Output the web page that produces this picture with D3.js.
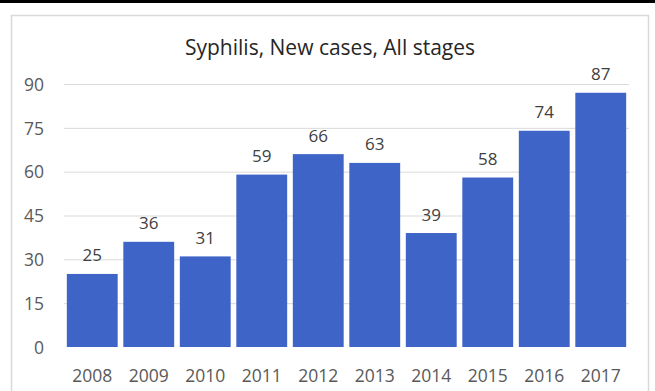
<!DOCTYPE html>
<html>
<head>
<meta charset="utf-8">
<script src="https://cdn.jsdelivr.net/npm/d3@7"></script>
<style>
  html, body { margin: 0; padding: 0; background: #ffffff; }
  svg { display: block; }
  text { font-family: "Open Sans", "Noto Sans", sans-serif; }
</style>
</head>
<body>
<svg id="chart" width="655" height="391"></svg>
<script>
// Syphilis, new cases, all stages, by year
const years = ["2008", "2009", "2010", "2011", "2012", "2013", "2014", "2015", "2016", "2017"];
const cases = [25, 36, 31, 59, 66, 63, 39, 58, 74, 87];
const yTicks = [0, 15, 30, 45, 60, 75, 90];
const title = "Syphilis, New cases, All stages";

const W = 655, H = 391;
const svg = d3.select("#chart");

// heavy rule across the top of the page
svg.append("rect").attr("x", 0).attr("y", 0).attr("width", W).attr("height", 3).attr("fill", "#000");

// chart frame
svg.append("rect")
  .attr("x", 11.5).attr("y", 15.5).attr("width", 637).attr("height", 390)
  .attr("fill", "#ffffff").attr("stroke", "#d9d9d9").attr("stroke-width", 1.5);

const plot = { left: 64, right: 629, top: 84, bottom: 347 };

const x = d3.scaleBand().domain(years).range([plot.left, plot.right]).paddingInner(0.1).paddingOuter(0.05);
const y = d3.scaleLinear().domain([0, 90]).range([plot.bottom, plot.top]);

// gridlines
svg.append("g")
  .selectAll("line").data(yTicks.filter(d => d > 0)).join("line")
  .attr("x1", plot.left).attr("x2", plot.right)
  .attr("y1", d => y(d) + 0.5).attr("y2", d => y(d) + 0.5)
  .attr("stroke", "#d9d9d9").attr("stroke-width", 1);

// y axis labels
const yAxis = d3.axisLeft(y).tickValues(yTicks).tickSize(0).tickPadding(0);
svg.append("g").attr("transform", `translate(44,0)`).call(yAxis)
  .call(g => g.select(".domain").remove())
  .selectAll("text").attr("fill", "#595959").attr("font-size", 17.5)
  .attr("dy", "0.36em")
  .style("font-family", '"Open Sans", sans-serif');

// bars
svg.append("g").selectAll("rect").data(years).join("rect")
  .attr("x", d => x(d)).attr("width", x.bandwidth())
  .attr("y", (d, i) => y(cases[i])).attr("height", (d, i) => y(0) - y(cases[i]))
  .attr("fill", "#3d64c6");

// value labels
svg.append("g").selectAll("text").data(years).join("text")
  .attr("x", d => x(d) + x.bandwidth() / 2)
  .attr("y", (d, i) => y(cases[i]) - 12.5)
  .attr("text-anchor", "middle").attr("font-size", 17).attr("fill", "#404040")
  .text((d, i) => cases[i]);

// x axis labels
const xAxis = d3.axisBottom(x).tickSize(0).tickPadding(0);
svg.append("g").attr("transform", `translate(0,382)`).call(xAxis)
  .call(g => g.select(".domain").remove())
  .selectAll("text").attr("fill", "#595959").attr("font-size", 17.5)
  .attr("y", 0).attr("dy", null)
  .style("font-family", '"Open Sans", sans-serif');

// title
svg.append("text").attr("x", 330).attr("y", 55).attr("text-anchor", "middle")
  .attr("font-size", 21).attr("fill", "#262626").text(title);
</script>
</body>
</html>
